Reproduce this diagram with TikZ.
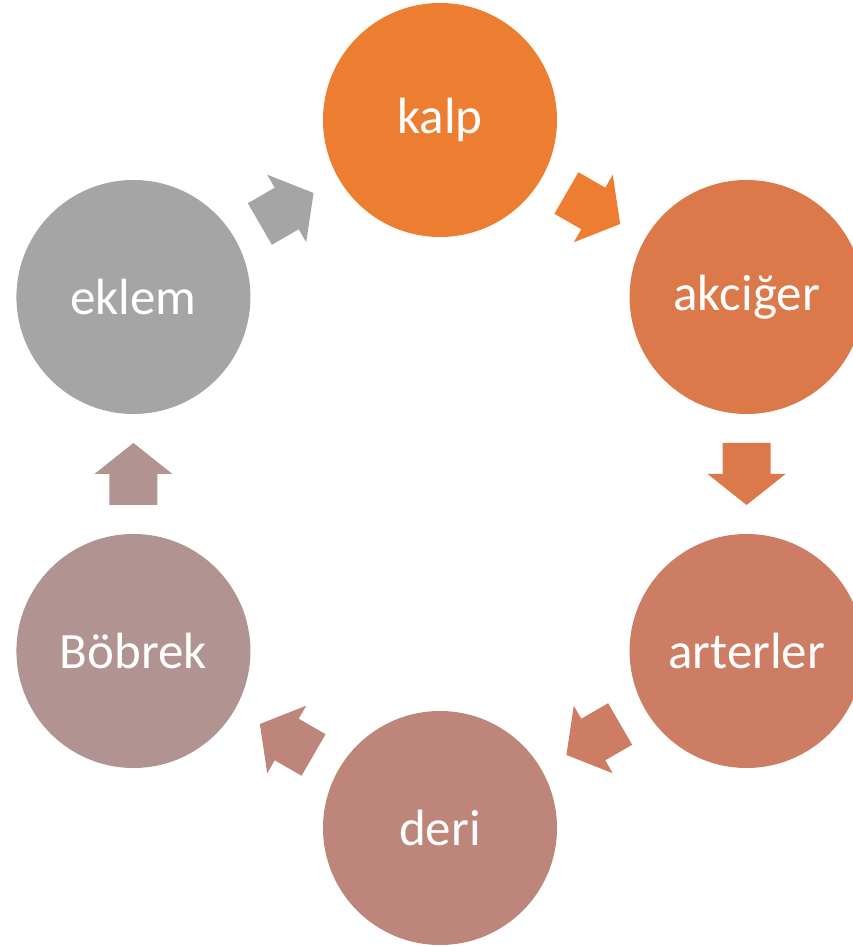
\documentclass[tikz,border=0pt]{standalone}
\usepackage{fontspec}
\setmainfont{Carlito}
\usetikzlibrary{calc}
\definecolor{ckalp}{RGB}{237,125,49}
\definecolor{cakc}{RGB}{220,121,75}
\definecolor{cart}{RGB}{204,125,100}
\definecolor{cderi}{RGB}{190,134,123}
\definecolor{cbob}{RGB}{177,147,145}
\definecolor{cekl}{RGB}{165,165,165}
\begin{document}
\begin{tikzpicture}[x=1pt,y=1pt,
  organ/.style={circle,minimum size=234pt,inner sep=0pt,text=white,
    font=\fontsize{51}{60}\selectfont},
  blockarrow/.pic={\fill[pic actions] (-31,-24) -- (0,-24) -- (0,-39) -- (31,0)
     -- (0,39) -- (0,24) -- (-31,24) -- cycle;}]
\useasboundingbox (0,0) rectangle (853,947);
\coordinate (c) at (440,473);
\node[organ,fill=ckalp]  (kalp)  at ($(c)+(90:354)$)   {kalp};
\node[organ,fill=cakc]   (akc)   at ($(c)+(30:354)$)   {akciğer};
\node[organ,fill=cart]   (art)   at ($(c)+(-30:354)$)  {arterler};
\node[organ,fill=cderi]  (deri)  at ($(c)+(-90:354)$)  {deri};
\node[organ,fill=cbob]   (bob)   at ($(c)+(-150:354)$) {Böbrek};
\node[organ,fill=cekl]   (ekl)   at ($(c)+(150:354)$)  {eklem};
\pic[fill=ckalp,rotate=-30]  at ($(kalp)!0.5!(akc)$) {blockarrow};
\pic[fill=cakc,rotate=-90]   at ($(akc)!0.5!(art)$)  {blockarrow};
\pic[fill=cart,rotate=-150]  at ($(art)!0.5!(deri)$) {blockarrow};
\pic[fill=cderi,rotate=150]  at ($(deri)!0.5!(bob)$) {blockarrow};
\pic[fill=cbob,rotate=90]    at ($(bob)!0.5!(ekl)$)  {blockarrow};
\pic[fill=cekl,rotate=30]    at ($(ekl)!0.5!(kalp)$) {blockarrow};
\end{tikzpicture}
\end{document}
